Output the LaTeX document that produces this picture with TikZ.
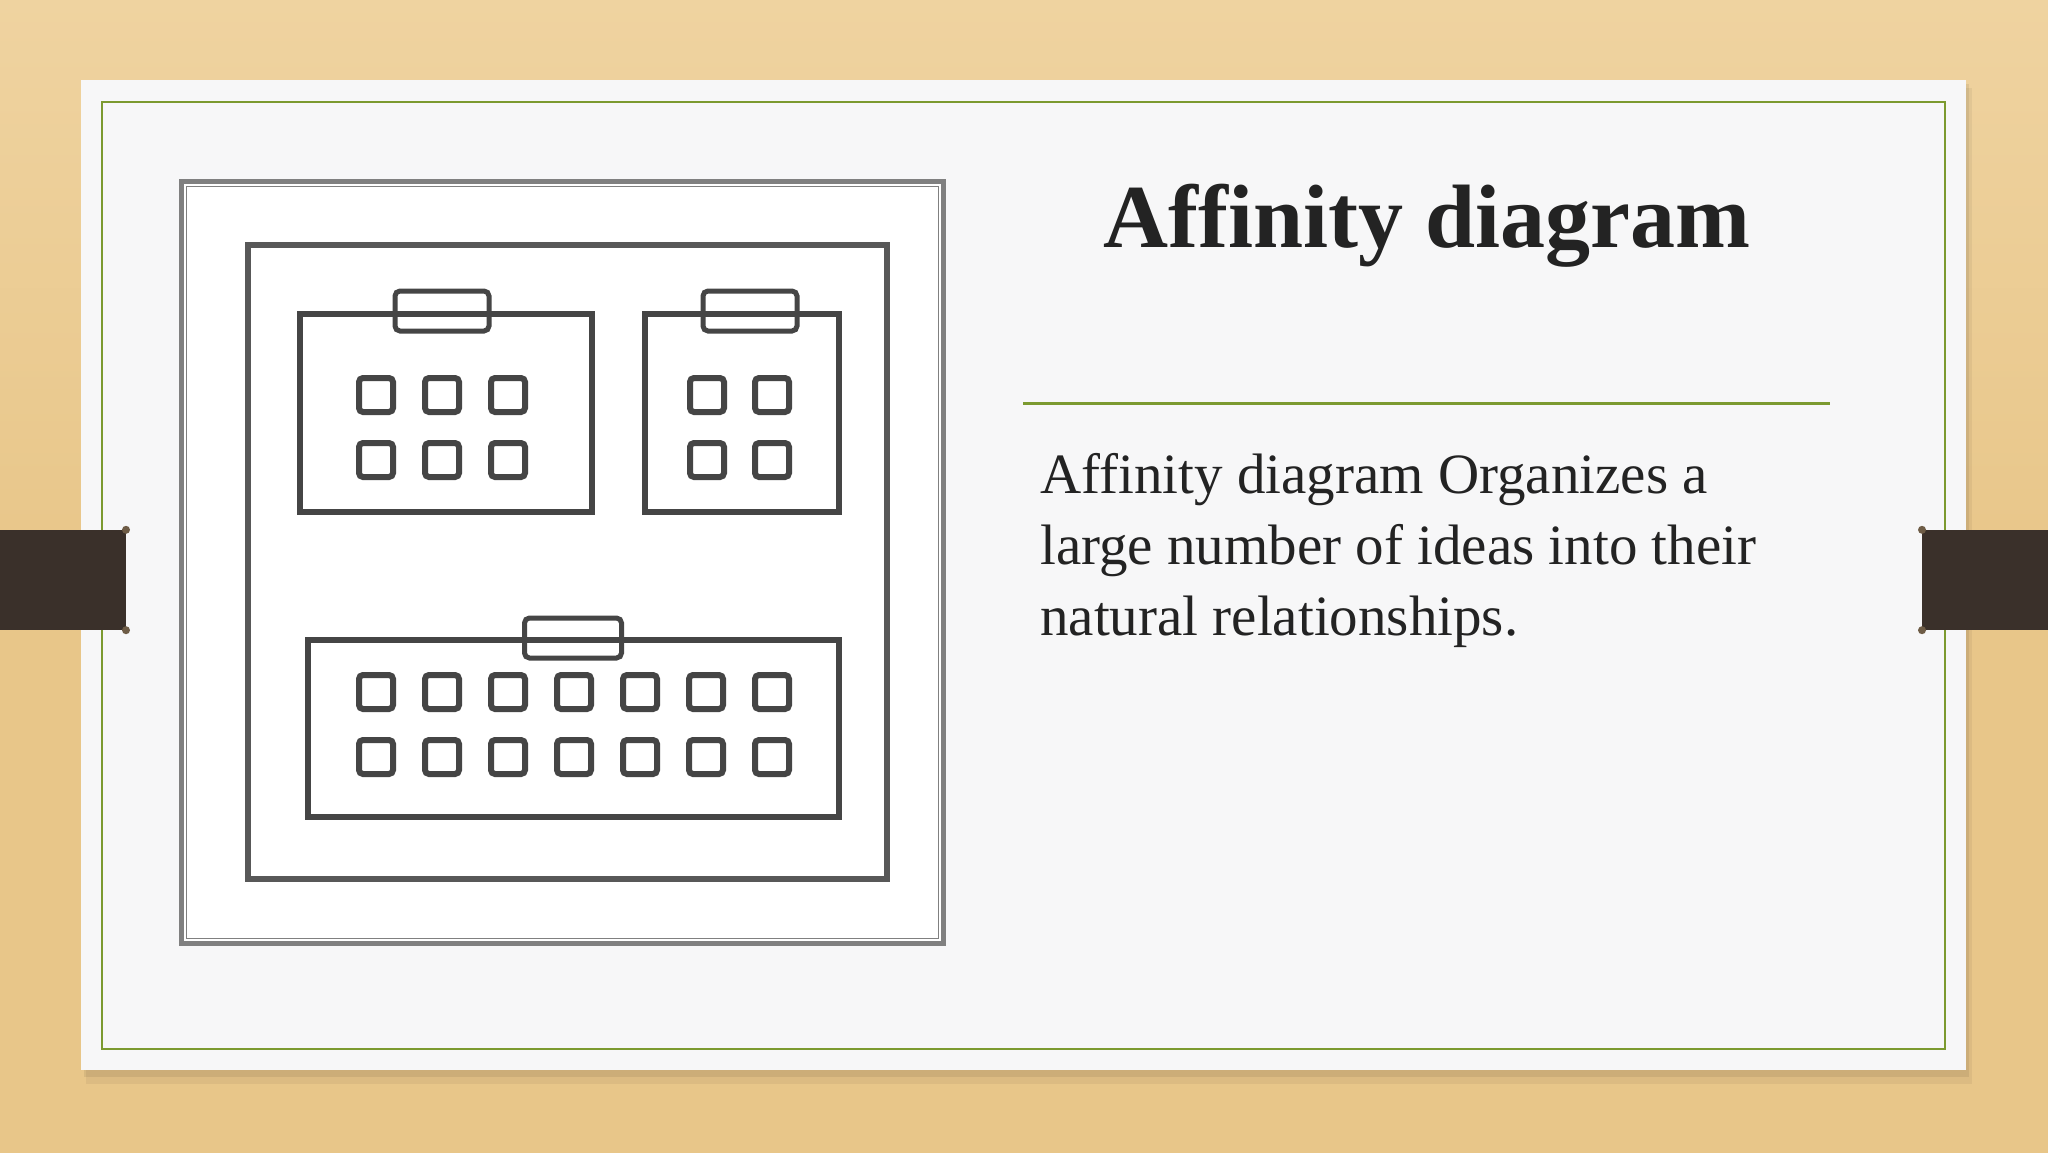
\documentclass[tikz,border=0pt]{standalone}
\usepackage{fontspec}
\setmainfont{Liberation Serif}
\usetikzlibrary{positioning,calc}

\definecolor{wood}{HTML}{E8C689}
\definecolor{woodlight}{HTML}{EFD3A0}
\definecolor{paper}{HTML}{F7F7F8}
\definecolor{olive}{HTML}{7C9A30}
\definecolor{strap}{HTML}{3A302A}
\definecolor{knob}{HTML}{6E5C46}
\definecolor{ink}{HTML}{232323}
\definecolor{pen}{HTML}{454545}
\definecolor{framegray}{HTML}{808080}

\begin{document}
\begin{tikzpicture}[x=1pt,y=-1pt,
    grp/.style={draw=pen,line width=6pt,rectangle,inner sep=0pt},
    tab/.style={draw=pen,line width=5pt,rectangle,rounded corners=5pt,minimum width=94pt,minimum height=40pt,inner sep=0pt},
    idea/.style={draw=pen,line width=6pt,rectangle,rounded corners=4pt,minimum size=34pt,inner sep=0pt},
    strapbox/.style={fill=strap,rectangle,minimum width=128pt,minimum height=100pt,inner sep=0pt},
    body/.style={font=\fontsize{57}{71}\selectfont,text=ink,inner sep=0pt}]

      \useasboundingbox (0,0) rectangle (2048,1152);
      \shade[top color=woodlight,bottom color=wood,middle color=wood] (0,0) rectangle (2048,1152);

      \fill[black,opacity=0.05] (86,88) rectangle (1972,1084);
      \fill[black,opacity=0.07] (84,84) rectangle (1969,1077);
      \node[fill=paper,minimum width=1885pt,minimum height=990pt,inner sep=0pt] (slide) at (1023.5,575) {};
      \node[draw=olive,line width=2.5pt,minimum width=1843pt,minimum height=947pt,inner sep=0pt] (border) at (1023.5,575.5) {};

      \node[strapbox,anchor=east] (strapl) at (126,580) {};
      \node[strapbox,anchor=west] (strapr) at (1922,580) {};
      \fill[knob] (strapl.north east) circle (4);
      \fill[knob] (strapl.south east) circle (4);
      \fill[knob] (strapr.north west) circle (4);
      \fill[knob] (strapr.south west) circle (4);

      \node[draw=framegray,line width=5pt,fill=white,minimum size=762pt,inner sep=0pt] (photo) at (562.5,562.5) {};
      \node[draw=framegray,line width=1.5pt,minimum size=752pt,inner sep=0pt] (photoin) at (photo.center) {};

      \node[grp,draw=pen!90,minimum width=639pt,minimum height=634pt] (board) at (567.5,562) {};

      \node[grp,minimum width=292pt,minimum height=198pt] (g1) at (446,413) {};
      \node[grp,minimum width=194pt,minimum height=198pt] (g2) at (742,413) {};
      \node[grp,minimum width=531pt,minimum height=177pt] (g3) at (573.5,728.5) {};

      \node[tab] (t1) at (442,311) {};
      \node[tab] (t2) at (750,311) {};
      \node[tab,minimum width=97pt] (t3) at (573,638) {};

      \foreach \x in {376,442,508}
        \foreach \y in {395,460}
          \node[idea] (a\x\y) at (\x,\y) {};
      \foreach \x in {707,772}
        \foreach \y in {395,460}
          \node[idea] (b\x\y) at (\x,\y) {};
      \foreach \x in {376,442,508,574,640,706,772}
        \foreach \y in {692,757}
          \node[idea] (c\x\y) at (\x,\y) {};

      \node[font=\fontsize{90}{90}\selectfont\bfseries,text=ink,inner sep=0pt,anchor=base] (title) at (1427,247) {Affinity diagram};

      \draw[olive,line width=3pt] (1023,403) -- (1830,403);

      \node[body,anchor=base west] (line1) at (1040,493) {Affinity diagram Organizes a};
      \node[body,below=71pt of line1.base west,anchor=base west] (line2) {large number of ideas into their};
      \node[body,below=71pt of line2.base west,anchor=base west] (line3) {natural relationships.};

\end{tikzpicture}
\end{document}
